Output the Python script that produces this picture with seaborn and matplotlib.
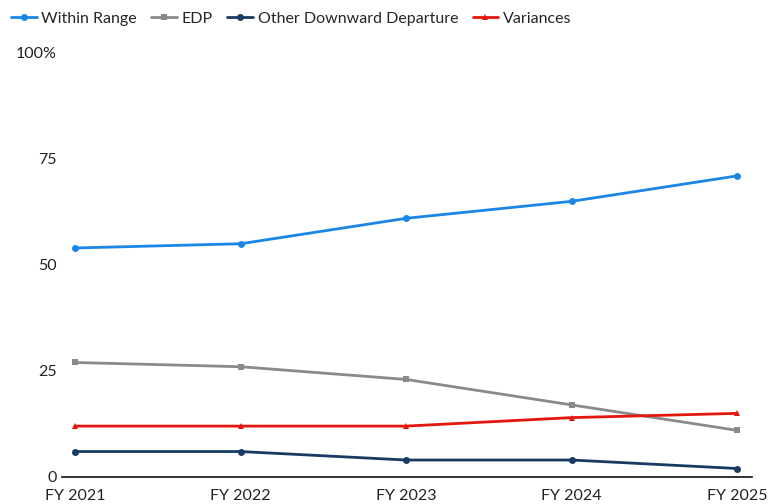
import pandas as pd
import matplotlib.pyplot as plt
import seaborn as sns

# values
years = ["FY 2021", "FY 2022", "FY 2023", "FY 2024", "FY 2025"]
within_range = [54, 55, 61, 65, 71]
edp = [27, 26, 23, 17, 11]
other_downward = [6, 6, 4, 4, 2]
variances = [12, 12, 12, 14, 15]

series_names = ["Within Range", "EDP", "Other Downward Departure", "Variances"]
colors = ["#1a87e6", "#8a8a8a", "#173b63", "#e3170d"]
markers = ["o", "s", "o", "^"]

sns.set_theme(style="white")
plt.rcParams['font.family'] = ['Lato', 'DejaVu Sans']

rows = []
for name, vals in zip(series_names, [within_range, edp, other_downward, variances]):
    for i, v in enumerate(vals):
        rows.append({"year": i, "label": years[i], "value": v, "series": name})
df = pd.DataFrame(rows)

fig = plt.figure(figsize=(7.8, 5.04), dpi=100)
ax = fig.add_axes([0.0795, 0.0536, 0.8845, 0.8414])

sns.lineplot(data=df, x="year", y="value", hue="series", style="series",
             hue_order=series_names, style_order=series_names,
             palette=dict(zip(series_names, colors)),
             markers=dict(zip(series_names, markers)),
             dashes=False, linewidth=2, markersize=5, markeredgewidth=0,
             ax=ax)

ax.set_xlim(-0.08, 4.09)
ax.set_ylim(0, 100)
ax.set_xticks(range(len(years)))
ax.set_xticklabels(years)
ax.set_yticks([0, 25, 50, 75, 100])
ax.set_yticklabels(["0", "25", "50", "75", "100%"])
ax.set_xlabel("")
ax.set_ylabel("")
ax.tick_params(axis="both", labelsize=11.5, colors="#222222", length=0, pad=4)
ax.tick_params(axis="x", pad=9)

for side in ["top", "right", "left"]:
    ax.spines[side].set_visible(False)
ax.spines["bottom"].set_color("#111111")
ax.spines["bottom"].set_linewidth(1.2)

leg = ax.legend(loc="upper left", bbox_to_anchor=(-0.083, 1.113), ncol=4,
                frameon=False, fontsize=11.5, handlelength=1.6,
                handletextpad=0.3, columnspacing=0.9, borderaxespad=0)

plt.savefig("out.png", dpi=100)
plt.close()
